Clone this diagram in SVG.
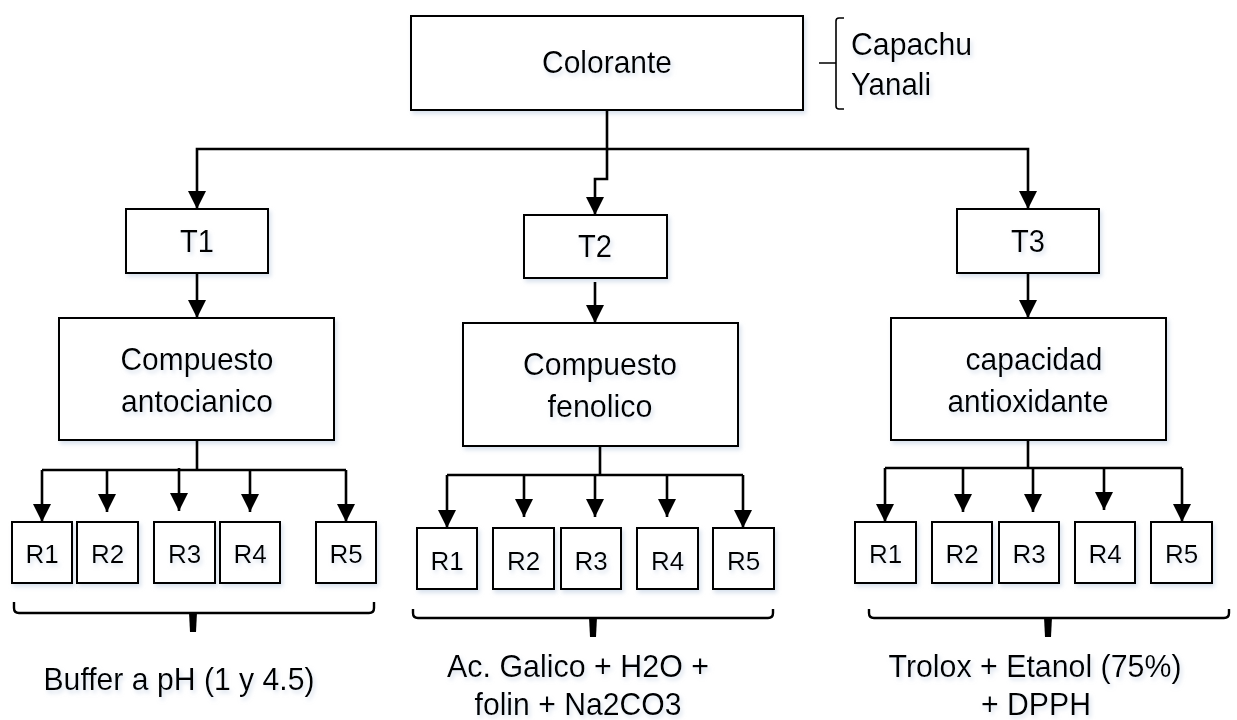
<svg xmlns="http://www.w3.org/2000/svg" width="1237" height="720" viewBox="0 0 1237 720">
<defs>
<filter id="sh" x="-20%" y="-20%" width="140%" height="150%">
<feDropShadow dx="2" dy="3" stdDeviation="2" flood-color="#b9c9df" flood-opacity="0.55"/>
</filter>
<marker id="ar" markerUnits="userSpaceOnUse" markerWidth="18" markerHeight="18" viewBox="0 0 18 18" refX="18" refY="9" orient="auto">
<path d="M0,0 L18,9 L0,18 z" fill="#000"/>
</marker>
</defs>
<style>
rect.b{fill:#fff;stroke:#000;stroke-width:2;filter:url(#sh)}
text{font-family:"Liberation Sans",Arial,sans-serif;fill:#000;filter:url(#sh)}
text.m{font-size:32px;text-anchor:middle}
text.r{font-size:26px;text-anchor:middle}
text.l{font-size:32px}
.c{fill:none;stroke:#000;stroke-width:2.6}
.ca{fill:none;stroke:#000;stroke-width:2.6;marker-end:url(#ar)}
.br{fill:none;stroke:#000;stroke-width:2.4}
</style>
<rect width="1237" height="720" fill="#fff"/>

<g id="colorante">
<rect class="b" x="411" y="16" width="392" height="94"/>
<text class="m" x="607" y="73" textLength="130" lengthAdjust="spacingAndGlyphs">Colorante</text>
</g>
<g id="variedades">
<path class="br" style="stroke-width:1.6" d="M844,18 H839 Q836,18 836,21 V106 Q836,109 839,109 H844 M819,63 H836"/>
<text class="l" x="851" y="55" textLength="121" lengthAdjust="spacingAndGlyphs">Capachu</text>
<text class="l" x="851" y="95" textLength="80" lengthAdjust="spacingAndGlyphs">Yanali</text>
</g>

<g id="t1"><rect class="b" x="126" y="209" width="142" height="64"/><text class="m" x="197" y="252" textLength="34" lengthAdjust="spacingAndGlyphs">T1</text></g>
<g id="t2"><rect class="b" x="524" y="215" width="143" height="63"/><text class="m" x="595" y="257" textLength="34" lengthAdjust="spacingAndGlyphs">T2</text></g>
<g id="t3"><rect class="b" x="957" y="209" width="142" height="64"/><text class="m" x="1028" y="252" textLength="34" lengthAdjust="spacingAndGlyphs">T3</text></g>

<g id="antocianico"><rect class="b" x="59" y="318" width="275" height="122"/><text class="m" x="197" y="370" textLength="153" lengthAdjust="spacingAndGlyphs">Compuesto</text><text class="m" x="197" y="412" textLength="152" lengthAdjust="spacingAndGlyphs">antocianico</text></g>
<g id="fenolico"><rect class="b" x="463" y="323" width="275" height="123"/><text class="m" x="600" y="375" textLength="154" lengthAdjust="spacingAndGlyphs">Compuesto</text><text class="m" x="600" y="417" textLength="105" lengthAdjust="spacingAndGlyphs">fenolico</text></g>
<g id="antioxidante"><rect class="b" x="891" y="318" width="275" height="122"/><text class="m" x="1034" y="370" textLength="137" lengthAdjust="spacingAndGlyphs">capacidad</text><text class="m" x="1028" y="412" textLength="161" lengthAdjust="spacingAndGlyphs">antioxidante</text></g>

<g id="g1r1"><rect class="b" x="12" y="522" width="60" height="61"/><text class="r" x="42" y="563">R1</text></g>
<g id="g1r2"><rect class="b" x="77" y="522" width="61" height="61"/><text class="r" x="107.5" y="563">R2</text></g>
<g id="g1r3"><rect class="b" x="154" y="522" width="61" height="61"/><text class="r" x="184.5" y="563">R3</text></g>
<g id="g1r4"><rect class="b" x="220" y="522" width="60" height="61"/><text class="r" x="250" y="563">R4</text></g>
<g id="g1r5"><rect class="b" x="316" y="522" width="60" height="61"/><text class="r" x="346" y="563">R5</text></g>

<g id="g2r1"><rect class="b" x="417" y="528" width="60" height="61"/><text class="r" x="447" y="570">R1</text></g>
<g id="g2r2"><rect class="b" x="493" y="528" width="61" height="61"/><text class="r" x="523.5" y="570">R2</text></g>
<g id="g2r3"><rect class="b" x="561" y="528" width="60" height="61"/><text class="r" x="591" y="570">R3</text></g>
<g id="g2r4"><rect class="b" x="637" y="528" width="61" height="61"/><text class="r" x="667.5" y="570">R4</text></g>
<g id="g2r5"><rect class="b" x="713" y="528" width="61" height="61"/><text class="r" x="743.5" y="570">R5</text></g>

<g id="g3r1"><rect class="b" x="855" y="522" width="61" height="61"/><text class="r" x="885.5" y="563">R1</text></g>
<g id="g3r2"><rect class="b" x="932" y="522" width="60" height="61"/><text class="r" x="962" y="563">R2</text></g>
<g id="g3r3"><rect class="b" x="999" y="522" width="60" height="61"/><text class="r" x="1029" y="563">R3</text></g>
<g id="g3r4"><rect class="b" x="1075" y="522" width="60" height="61"/><text class="r" x="1105" y="563">R4</text></g>
<g id="g3r5"><rect class="b" x="1151" y="522" width="61" height="61"/><text class="r" x="1181.5" y="563">R5</text></g>

<g id="brace1">
<path class="br" d="M14,602 V608 Q14,613 19,613 H369 Q374,613 374,608 V602"/>
<path d="M189,612 H197 L196,632 H190 Z" fill="#000"/>
<text class="m" x="179" y="690" textLength="271" lengthAdjust="spacingAndGlyphs">Buffer a pH (1 y 4.5)</text>
</g>
<g id="brace2">
<path class="br" d="M413,609 V613 Q413,618 418,618 H768 Q773,618 773,613 V609"/>
<path d="M589,617 H597 L596,637 H590 Z" fill="#000"/>
<text class="m" x="578" y="677" textLength="262" lengthAdjust="spacingAndGlyphs">Ac. Galico + H2O +</text>
<text class="m" x="578" y="715" textLength="207" lengthAdjust="spacingAndGlyphs">folin + Na2CO3</text>
</g>
<g id="brace3">
<path class="br" d="M869,609 V613 Q869,618 874,618 H1224 Q1229,618 1229,613 V609"/>
<path d="M1044,617 H1052 L1051,637 H1045 Z" fill="#000"/>
<text class="m" x="1035" y="677" textLength="293" lengthAdjust="spacingAndGlyphs">Trolox + Etanol (75%)</text>
<text class="m" x="1036" y="715" textLength="110" lengthAdjust="spacingAndGlyphs">+ DPPH</text>
</g>

<g id="connectors">
<path class="ca" d="M607,110 V149 H197 V209"/>
<path class="ca" d="M607,149 H1028 V209"/>
<path class="ca" d="M607,149 V179 H595 V215"/>
<path class="ca" d="M197,273 V318"/>
<path class="ca" d="M595,282 V323"/>
<path class="ca" d="M1028,273 V318"/>

<path class="c" d="M197,440 V470 M42,470 H346"/>
<path class="ca" d="M42,470 V522"/>
<path class="ca" d="M107,470 V512"/>
<path class="ca" d="M179,468 V511"/>
<path class="ca" d="M250,470 V512"/>
<path class="ca" d="M346,470 V522"/>

<path class="c" d="M600,446 V475 M447,475 H743"/>
<path class="ca" d="M447,475 V528"/>
<path class="ca" d="M524,475 V517"/>
<path class="ca" d="M595,475 V517"/>
<path class="ca" d="M667,475 V517"/>
<path class="ca" d="M743,475 V528"/>

<path class="c" d="M1028,440 V468 M885,468 H1182"/>
<path class="ca" d="M885,468 V522"/>
<path class="ca" d="M963,468 V512"/>
<path class="ca" d="M1033,468 V512"/>
<path class="ca" d="M1104,468 V510"/>
<path class="ca" d="M1182,468 V522"/>
</g>
</svg>
